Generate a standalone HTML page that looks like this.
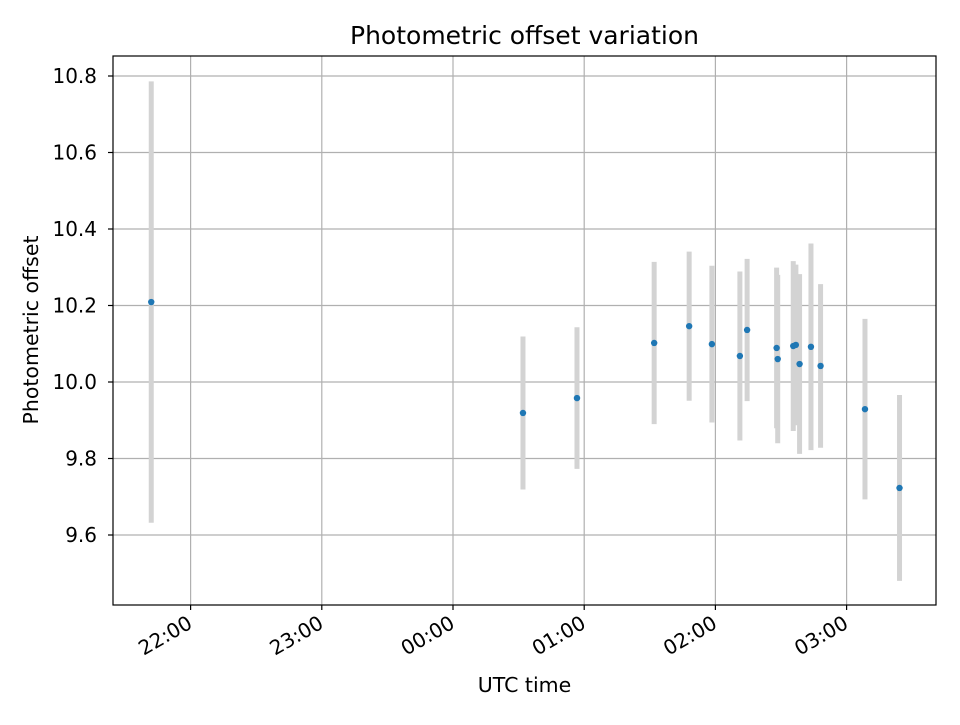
<!DOCTYPE html>
<html><head><meta charset="utf-8"><style>
body{margin:0;background:#fff;}
svg text{font-family:"DejaVu Sans","Liberation Sans",sans-serif;fill:#000;}
</style></head><body>
<svg id="chart" width="960" height="720" xmlns="http://www.w3.org/2000/svg">
<rect width="960" height="720" fill="#fff"/>
<g id="grid"></g><g id="errs"></g><g id="pts"></g>
<rect x="113" y="56" width="823" height="549" fill="none" stroke="#000" stroke-width="1.2"/>
<g id="axes"></g>
<text x="524.5" y="44" style="font-size:25px" text-anchor="middle">Photometric offset variation</text>
<text x="524.5" y="692" style="font-size:20.5px" text-anchor="middle">UTC time</text>
<text x="38" y="330" style="font-size:20.5px" text-anchor="middle" transform="rotate(-90 38 330)">Photometric offset</text>
</svg>
<script>
const times=[-138,32,56.7,92,108,118.4,131.2,134.5,148,148.5,155.6,156.8,158.5,163.7,168.1,188.4,204.2];
const offsets=[10.209,9.919,9.958,10.102,10.146,10.099,10.068,10.136,10.089,10.060,10.094,10.097,10.047,10.092,10.042,9.929,9.723];
const errors=[0.577,0.2,0.185,0.212,0.195,0.205,0.221,0.186,0.21,0.22,0.222,0.21,0.235,0.27,0.214,0.236,0.243];
const yTicks=[9.6,9.8,10.0,10.2,10.4,10.6,10.8];
const xTickMinutes=[-120,-60,0,60,120,180];
const xTickLabels=["22:00","23:00","00:00","01:00","02:00","03:00"];
const NS="http://www.w3.org/2000/svg";
const L=113,R=936,T=56,B=605;
function xs(m){return 453+m*131.2/60;}
function ys(v){return 382-(v-10)*382.5;}
function mk(tag,attrs,parent){const e=document.createElementNS(NS,tag);for(const k in attrs)e.setAttribute(k,attrs[k]);document.getElementById(parent).appendChild(e);return e;}
yTicks.forEach(v=>{const y=ys(v);
 const g=mk('line',{x1:L,x2:R,y1:y,y2:y,stroke:'#b0b0b0','stroke-width':1.2},'grid');
 
 
 const t=mk('line',{x1:L-5,x2:L,y1:y,y2:y,stroke:'#000','stroke-width':1.2},'axes');
 
 
 const tx=mk('text',{x:L-16,y:y+7,style:'font-size:20px','text-anchor':'end'},'axes');
 tx.textContent=v.toFixed(1);
 
 
});
xTickMinutes.forEach((m,i)=>{const x=xs(m);
 const g=mk('line',{x1:x,x2:x,y1:T,y2:B,stroke:'#b0b0b0','stroke-width':1.2},'grid');
 
 
 const t=mk('line',{x1:x,x2:x,y1:B,y2:B+5,stroke:'#000','stroke-width':1.2},'axes');
 
 
 const ax=x+3, ay=B+22;
 const tx=mk('text',{x:ax,y:ay,style:'font-size:20px','text-anchor':'end',transform:`rotate(-30 ${ax} ${ay})`},'axes');
 tx.textContent=xTickLabels[i];
 
 
});
times.forEach((m,i)=>{const x=xs(m);
 const e=mk('line',{x1:x,x2:x,y1:ys(offsets[i]+errors[i]),y2:ys(offsets[i]-errors[i]),stroke:'#d3d3d3','stroke-width':5},'errs');
 
 
 const c=mk('circle',{cx:x,cy:ys(offsets[i]),r:3.2,fill:'#1f77b4'},'pts');
 
 
});
</script>
</body></html>
